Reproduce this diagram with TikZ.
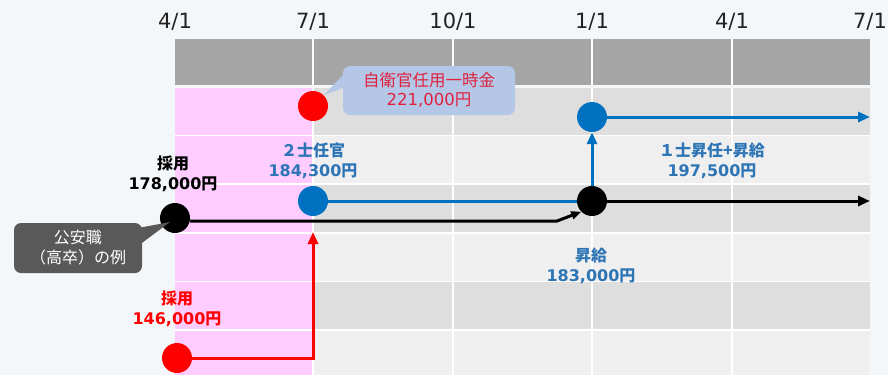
\documentclass[tikz,border=0pt]{standalone}
\usepackage{fontspec}
\setmainfont{DejaVu Sans}
\newfontfamily\jp{Noto Sans CJK JP}
\usetikzlibrary{arrows.meta,calc}
\definecolor{bgc}{HTML}{F4F7FA}
\definecolor{headgray}{HTML}{A5A5A5}
\definecolor{rowdark}{HTML}{DEDEDE}
\definecolor{rowlight}{HTML}{EFEFEF}
\definecolor{pinkcol}{HTML}{FFCCFF}
\definecolor{lineblue}{HTML}{0070C0}
\definecolor{textblue}{HTML}{2E75B6}
\definecolor{calloutblue}{HTML}{B4C7E7}
\definecolor{crimson}{HTML}{E0203C}
\definecolor{darkbox}{HTML}{595959}
\definecolor{datec}{HTML}{222222}
\tikzset{
  dot/.style={circle,minimum size=30pt,inner sep=0pt},
  datelbl/.style={font=\fontsize{21}{24}\selectfont,text=datec},
  lbl/.style={align=center,font=\fontsize{16}{20}\selectfont\bfseries},
  conn/.style={line width=3pt,-{Triangle[length=12pt,width=10pt]}},
  gridw/.style={white,line width=1.5pt}
}
\begin{document}
\begin{tikzpicture}[x=1pt,y=-1pt]
\fill[bgc] (0,0) rectangle (888,375);
\useasboundingbox (0,0) rectangle (888,375);
% rows
\fill[rowlight] (175,88) rectangle (870,375);
\fill[rowdark] (175,88) rectangle (870,135.5);
\fill[rowdark] (175,184) rectangle (870,233);
\fill[rowdark] (175,281.5) rectangle (870,330);
\fill[pinkcol] (175,88) rectangle (313,375);
\foreach \yy in {135.5,184,233,281.5,330} \draw[gridw] (175,\yy) -- (870,\yy);
\foreach \xx in {313,453,592,732} \draw[gridw] (\xx,88) -- (\xx,375);
% header
\fill[headgray] (175,39) rectangle (870,85);
\foreach \xx in {313,453,592,732} \draw[gridw] (\xx,39) -- (\xx,85);
\node[datelbl] (d1) at (175,22) {4/1};
\node[datelbl] (d2) at (313,22) {7/1};
\node[datelbl] (d3) at (453,22) {10/1};
\node[datelbl] (d4) at (592,22) {1/1};
\node[datelbl] (d5) at (732,22) {4/1};
\node[datelbl] (d6) at (870,22) {7/1};
% dots
\node[dot,fill=red] (r1) at (313,106) {};
\node[dot,fill=lineblue] (b2) at (592,117) {};
\node[dot,fill=lineblue] (b1) at (313,201) {};
\node[dot,fill=black] (k1) at (175,218) {};
\node[dot,fill=black] (k2) at (592,201) {};
\node[dot,fill=red] (r2) at (177,358) {};
\coordinate (bend) at (870,117);
\coordinate (kend) at (870,201);
\coordinate (kb) at (557,221);
\coordinate (redend) at (313,232);
% connectors
\draw[conn,lineblue] (b2.east) -- (bend);
\draw[conn,lineblue] (k2.north) -- (b2.south);
\draw[line width=3pt,lineblue] (b1.east) -- (k2.west);
\draw[conn,black,-{Triangle[length=10pt,width=8pt]}] (k1.east |- kb) -- (kb) -- (k2.south west);
\draw[conn,black] (k2.east) -- (kend);
\draw[conn,red] (r2.east) -| (redend);
% callout blue
\node[fill=calloutblue,rounded corners=7pt,minimum width=172pt,minimum height=49pt,align=center,
  text=crimson,font=\jp\fontsize{16.5}{19}\selectfont] (cb) at (429,90.5) {自衛官任用一時金\\{\fontspec{DejaVu Sans}221,000}円};
\fill[calloutblue] (r1.north east) -- ($(cb.north west)+(9,0)$) -- ($(cb.west)+(1,-3)$) -- cycle;
% callout dark
\node[fill=darkbox,rounded corners=7pt,minimum width=128pt,minimum height=50pt,align=center,
  text=white,font=\jp\fontsize{16}{20}\selectfont] (kc) at (78,248) {公安職\\（高卒）の例};
\fill[darkbox] ($(k1.center)+(-5,4)$) -- ($(kc.north east)+(-3,5)$) -- ($(kc.east)+(-3,-3)$) -- cycle;
% labels
\node[lbl,text=black] (l1) at (173,174) {{\jp 採用}\\178,000{\jp 円}};
\node[lbl,text=textblue] (l2) at (313,160.5) {{\jp ２士任官}\\184,300{\jp 円}};
\node[lbl,text=textblue] (l3) at (712,161) {{\jp １士昇任+昇給}\\197,500{\jp 円}};
\node[lbl,text=textblue] (l4) at (591,265.5) {{\jp 昇給}\\183,000{\jp 円}};
\node[lbl,text=red] (l5) at (177,308.5) {{\jp 採用}\\146,000{\jp 円}};
\end{tikzpicture}
\end{document}
